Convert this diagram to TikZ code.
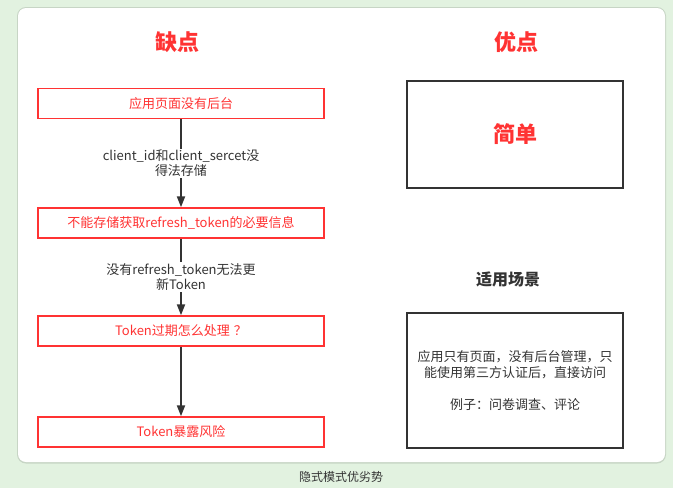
\documentclass[tikz,border=0pt]{standalone}
\usepackage{fontspec}
\setmainfont{Noto Sans CJK SC}
\usetikzlibrary{positioning,arrows.meta}
\definecolor{hotred}{HTML}{FF3333}
\definecolor{ink}{HTML}{333333}
\definecolor{mint}{HTML}{E2F2E0}

\begin{document}
\begin{tikzpicture}[
                x=1pt, y=-1pt,
                title/.style={text=hotred, font=\fontsize{22}{26}\selectfont\bfseries},
                con/.style={
                    draw=hotred,
                    line width=1.5pt,
                    text=hotred,
                    minimum width=286pt,
                    minimum height=30pt,
                    inner sep=0pt,
                    font=\fontsize{13}{16}\selectfont
                },
                pro/.style={
                    draw=ink,
                    line width=1.6pt,
                    minimum width=216pt,
                    inner sep=0pt,
                    align=center
                },
                note/.style={fill=white, text=ink, align=center, inner sep=1pt,
                    font=\fontsize{13}{15.5}\selectfont},
                arrow/.style={-{Triangle[length=11pt,width=8pt]}, line width=2pt, draw=ink}
            ]
                \useasboundingbox (0,0) rectangle (673,488);
                \fill[mint] (0,0) rectangle (673,488);
                \fill[mint!80!black!60!mint, rounded corners=9pt] (17,7) rectangle (666,463.5);
                \fill[white, rounded corners=8pt] (18,8) rectangle (665,462);

                \node[title] (cons) at (177,42) {缺点};
                \node[title] (pros) at (516,42) {优点};

                % cons column
                \node[con] (nobackend) at (181,103.5) {应用页面没有后台};
                \node[con] (nostore) at (181,223) {不能存储获取refresh\_token的必要信息};
                \node[con] (expire) at (181,331) {Token过期怎么处理\hspace{4pt}？};
                \node[con] (leak) at (181,432) {Token暴露风险};

                \draw[arrow] (nobackend) -- (nostore)
                    node[midway, note] {client\_id和client\_sercet没\\得法存储};
                \draw[arrow] (nostore) -- (expire)
                    node[midway, note] {没有refresh\_token无法更\\新Token};
                \draw[arrow] (expire) -- (leak);

                % pros column
                \node[pro, minimum height=107pt, text=hotred,
                      font=\fontsize{22}{26}\selectfont\bfseries] (simple) at (515,134.5) {简单};
                \node[text=ink, font=\fontsize{16}{20}\selectfont\bfseries] (scene) at (508,279) {适用场景};
                \node[pro, minimum height=135pt, text=ink,
                      font=\fontsize{13}{16}\selectfont] (usage) at (515,380.5)
                    {应用只有页面，没有后台管理，只\\能使用第三方认证后，直接访问\\[16pt]例子：问卷调查、评论};

                \node[text=ink, font=\fontsize{12}{14}\selectfont] (caption) at (341,477) {隐式模式优劣势};
            \end{tikzpicture}
\end{document}
